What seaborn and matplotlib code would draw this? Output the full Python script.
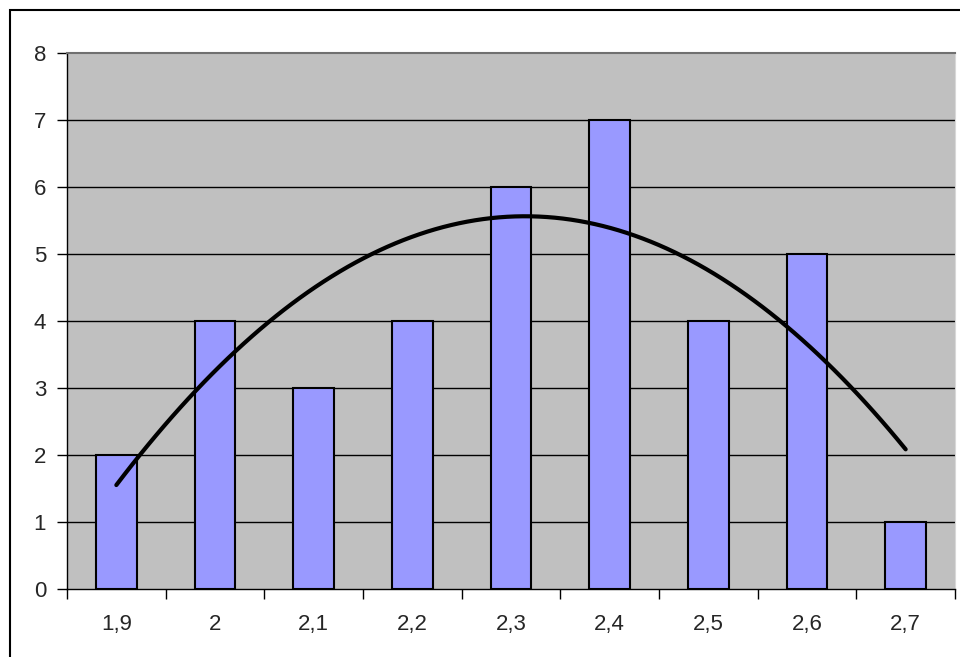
import numpy as np
import pandas as pd
import matplotlib
matplotlib.use("Agg")
import matplotlib.pyplot as plt
from matplotlib.patches import Rectangle
import seaborn as sns

# data
categories = ["1,9", "2", "2,1", "2,2", "2,3", "2,4", "2,5", "2,6", "2,7"]
counts = [2, 4, 3, 4, 6, 7, 4, 5, 1]

sns.set_style("white")
plt.rcParams["font.family"] = ["Liberation Sans", "DejaVu Sans"]

df = pd.DataFrame({"cat": categories, "n": counts, "pos": np.arange(len(categories))})

fig = plt.figure(figsize=(9.6, 6.57), dpi=100)
ax = fig.add_axes([67 / 960, 1 - 589 / 657, (955 - 67) / 960, (589 - 53) / 657])
ax.set_facecolor("#C0C0C0")

sns.barplot(data=df, x="cat", y="n", ax=ax, color="#9999FF", saturation=1,
            width=0.41, edgecolor="black", linewidth=1.5, zorder=3)
# Excel-style 2nd order polynomial trendline
sns.regplot(data=df, x="pos", y="n", order=2, ci=None, scatter=False, ax=ax,
            line_kws={"color": "black", "linewidth": 3, "zorder": 4})

ax.set_xlim(-0.5, len(categories) - 0.5)
ax.set_ylim(0, 8)
ax.set_yticks(range(0, 9))
ax.set_xlabel("")
ax.set_ylabel("")

# category labels centred, tick marks between categories
ax.set_xticks(np.arange(len(categories)), minor=True)
ax.set_xticklabels(categories, minor=True)
ax.set_xticks(np.arange(-0.5, len(categories)))
ax.set_xticklabels([])
ax.tick_params(axis="x", which="major", bottom=True, direction="out", length=7, width=1, color="black")
ax.tick_params(axis="x", which="minor", bottom=True, length=0, pad=18, labelsize=16)
ax.tick_params(axis="y", left=True, direction="out", length=7, width=1, color="black", pad=8, labelsize=16)

for y in range(1, 8):
    ax.axhline(y, color="black", linewidth=1, zorder=1)

ax.spines["left"].set_color("black")
ax.spines["bottom"].set_color("black")
ax.spines["left"].set_linewidth(1)
ax.spines["bottom"].set_linewidth(1)
ax.spines["top"].set_visible(True)
ax.spines["top"].set_color("#707070")
ax.spines["top"].set_linewidth(1.5)
ax.spines["right"].set_visible(True)
ax.spines["right"].set_color("#D8D8D8")

# outer chart border
fig.patches.append(Rectangle((10 / 960, -0.1), 1.2, 1 - 10 / 657 + 0.1,
                             transform=fig.transFigure, fill=False,
                             edgecolor="black", linewidth=1.5))

fig.savefig("out.png", dpi=100)
